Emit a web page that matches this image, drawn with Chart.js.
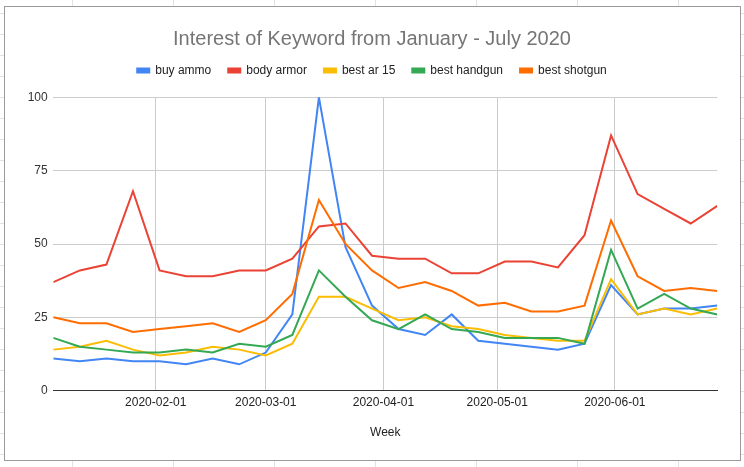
<!DOCTYPE html>
<html>
<head>
<meta charset="utf-8">
<script src="https://cdn.jsdelivr.net/npm/chart.js@4.4.1/dist/chart.umd.min.js"></script>
<style>
  html, body { margin: 0; padding: 0; }
  body {
    width: 744px; height: 467px; overflow: hidden; position: relative;
    background-color: #fff;
    background-image:
      repeating-linear-gradient(to right, transparent 0px, transparent 72px, #e2e2e2 72px, #e2e2e2 73px, transparent 73px, transparent 101px),
      repeating-linear-gradient(to bottom, transparent 0px, transparent 13px, #e2e2e2 13px, #e2e2e2 14px, transparent 14px, transparent 21px);
    background-size: 101px 100%, 100% 21px;
    background-position: 0 0, 0 0;
  }
  #box {
    position: absolute; left: 4px; top: 6px; width: 737px; height: 455px;
    box-sizing: border-box; border: 1px solid #9a9a9a; background: #fff;
  }
  #wrap { position: absolute; left: 0; top: 0; width: 744px; height: 467px; }
</style>
</head>
<body>
<div id="box"></div>
<div id="wrap"><canvas id="c" width="744" height="467"></canvas></div>
<script>
// ---- data ----
const weeks = ['2020-01-05','2020-01-12','2020-01-19','2020-01-26','2020-02-02','2020-02-09','2020-02-16','2020-02-23',
               '2020-03-01','2020-03-08','2020-03-15','2020-03-22','2020-03-29','2020-04-05','2020-04-12','2020-04-19',
               '2020-04-26','2020-05-03','2020-05-10','2020-05-17','2020-05-24','2020-05-31','2020-06-07','2020-06-14',
               '2020-06-21','2020-06-28'];
const buyAmmo     = [11,10,11,10,10,9,11,9,13,26,100,49,29,21,19,26,17,16,15,14,16,36,26,28,28,29];
const bodyArmor   = [37,41,43,68,41,39,39,41,41,45,56,57,46,45,45,40,40,44,44,42,53,87,67,62,57,63];
const bestAr15    = [14,15,17,14,12,13,15,14,12,16,32,32,28,24,25,22,21,19,18,17,17,38,26,28,26,28];
const bestHandgun = [18,15,14,13,13,14,13,16,15,19,41,32,24,21,26,21,20,18,18,18,16,48,28,33,28,26];
const bestShotgun = [25,23,23,20,21,22,23,20,24,33,65,50,41,35,37,34,29,30,27,27,29,58,39,34,35,34];
const seriesNames = ['buy ammo','body armor','best ar 15','best handgun','best shotgun'];
const monthTicks  = ['2020-02-01','2020-03-01','2020-04-01','2020-05-01','2020-06-01'];
const yTicks      = [0,25,50,75,100];

const colors = ['#4285f4','#ea4335','#fbbc04','#34a853','#ff6d01'];
const FONT = "'Liberation Sans', Arial, sans-serif";

function dayOf(s) {
  const [y,m,d] = s.split('-').map(Number);
  return Math.round((Date.UTC(y,m-1,d) - Date.UTC(2020,0,5)) / 86400000);
}
const xs = weeks.map(dayOf);
const labelByDay = {};
monthTicks.forEach(s => { labelByDay[dayOf(s)] = s; });

const allSeries = [buyAmmo, bodyArmor, bestAr15, bestHandgun, bestShotgun];
const datasets = allSeries.map((vals, i) => ({
  label: seriesNames[i],
  data: vals.map((v, j) => ({x: xs[j], y: v})),
  borderColor: colors[i],
  backgroundColor: colors[i],
  borderWidth: 2,
  pointRadius: 0,
  pointHoverRadius: 0,
  tension: 0,
  fill: false,
  order: allSeries.length - 1 - i
}));

const legendSpacer = {
  id: 'legendSpacer',
  beforeInit(chart) {
    const orig = chart.legend.fit;
    chart.legend.fit = function() { orig.call(this); this.height += 10.8; };
  }
};

new Chart(document.getElementById('c'), {
  type: 'line',
  data: { datasets },
  plugins: [legendSpacer],
  options: {
    responsive: false,
    animation: false,
    events: [],
    layout: { padding: { top: 0, left: 0, right: 0, bottom: 27.3 } },
    plugins: {
      title: {
        display: true,
        text: 'Interest of Keyword from January - July 2020',
        color: '#757575',
        font: { family: FONT, size: 20, weight: 'normal' },
        padding: { top: 27, bottom: -3.5 }
      },
      legend: {
        display: true,
        labels: {
          boxWidth: 12, boxHeight: 4, padding: 17,
          color: '#222',
          font: { family: FONT, size: 12 },
          sort: (a, b) => a.datasetIndex - b.datasetIndex
        }
      },
      tooltip: { enabled: false }
    },
    scales: {
      x: {
        type: 'linear',
        min: xs[0], max: xs[xs.length - 1],
        afterBuildTicks: (s) => { s.ticks = monthTicks.map(t => ({ value: dayOf(t) })); },
        afterFit: (s) => { s.height = 49; },
        ticks: {
          autoSkip: false, maxRotation: 0, padding: 5,
          color: '#222', font: { family: FONT, size: 12 },
          callback: (v) => labelByDay[v] || ''
        },
        grid: { color: '#cccccc', drawTicks: false, lineWidth: 1 },
        border: { display: true, color: '#333333', width: 1 },
        title: { display: true, text: 'Week', color: '#222', font: { family: FONT, size: 12 }, padding: 0 }
      },
      y: {
        type: 'linear', position: 'left',
        min: 0, max: 100,
        afterBuildTicks: (s) => { s.ticks = yTicks.map(v => ({ value: v })); },
        afterFit: (s) => { s.width = 53.3; },
        ticks: { padding: 5.6, color: '#333', font: { family: FONT, size: 12 } },
        grid: {
          drawTicks: false, lineWidth: 1,
          color: (ctx) => (ctx.tick && ctx.tick.value === 0) ? '#333333' : '#cccccc'
        },
        border: { display: false }
      },
      yR: {
        type: 'linear', position: 'right', display: true,
        afterFit: (s) => { s.width = 26.7; },
        ticks: { display: false },
        grid: { display: false },
        border: { display: false }
      }
    }
  }
});
</script>
</body>
</html>
